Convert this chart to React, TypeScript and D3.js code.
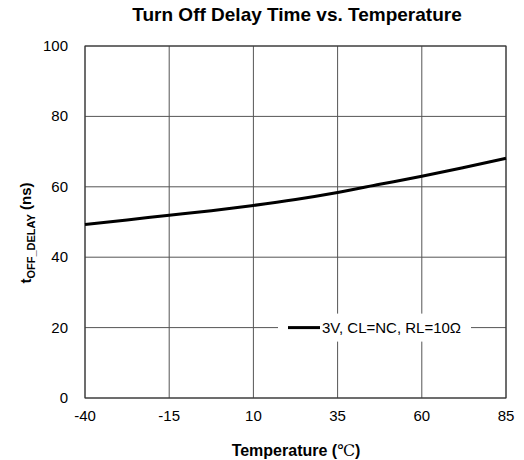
import React from "react";
import * as d3 from "d3";

const temps = [-40, -27.5, -15, -2.5, 10, 22.5, 35, 47.5, 60, 72.5, 85];
const delays = [49.3, 50.6, 51.9, 53.2, 54.7, 56.4, 58.4, 60.7, 63.0, 65.5, 68.1];
const xTicks = [-40, -15, 10, 35, 60, 85];
const yTicks = [0, 20, 40, 60, 80, 100];
const legendLabel = "3V, CL=NC, RL=10Ω";

export default function App() {
  const W = 524, H = 460;
  const m = { left: 85, right: 506, top: 46, bottom: 398 };
  const x = d3.scaleLinear().domain([-40, 85]).range([m.left, m.right]);
  const y = d3.scaleLinear().domain([0, 100]).range([m.bottom, m.top]);
  const line = d3.line<number>().x((_, i) => x(temps[i])).y((d) => y(d)).curve(d3.curveMonotoneX);
  const font = "Arial, 'Liberation Sans', sans-serif";
  const ly = y(20);
  return (
    <svg width={W} height={H} style={{ position: "absolute", left: 0, top: 0 }} fontFamily={font}>
      <rect width={W} height={H} fill="#fff" />
      <text x={297} y={21} textAnchor="middle" fontSize={19} fontWeight="bold">Turn Off Delay Time vs. Temperature</text>
      {xTicks.map((t) => (
        <line key={"vx" + t} x1={x(t)} x2={x(t)} y1={m.top} y2={m.bottom} stroke="#555" strokeWidth={1} />
      ))}
      {yTicks.map((t) => (
        <line key={"hy" + t} x1={m.left} x2={m.right} y1={y(t)} y2={y(t)} stroke="#555" strokeWidth={1} />
      ))}
      <rect x={m.left} y={m.top} width={m.right - m.left} height={m.bottom - m.top} fill="none" stroke="#333" strokeWidth={1} />
      <path d={line(delays) || ""} fill="none" stroke="#000" strokeWidth={3} />
      <rect x={278} y={ly - 14} width={193} height={28} fill="#fff" />
      <line x1={288} x2={320} y1={ly} y2={ly} stroke="#000" strokeWidth={3} />
      <text x={322} y={ly + 5} fontSize={15}>{legendLabel}</text>
      {xTicks.map((t) => (
        <text key={"xt" + t} x={x(t)} y={421} textAnchor="middle" fontSize={15}>{t}</text>
      ))}
      {yTicks.map((t) => (
        <text key={"yt" + t} x={68} y={y(t) + 5} textAnchor="end" fontSize={15}>{t}</text>
      ))}
      <text x={296} y={456} textAnchor="middle" fontSize={16} fontWeight="bold">
        Temperature (<tspan fontFamily="'DejaVu Serif', serif" fontWeight="normal">℃</tspan>)
      </text>
      <text transform={`translate(31,233) rotate(-90)`} textAnchor="middle" fontSize={15} fontWeight="bold">
        t<tspan fontSize={11} dy={4}>OFF_DELAY</tspan><tspan dy={-4}> (ns)</tspan>
      </text>
    </svg>
  );
}
